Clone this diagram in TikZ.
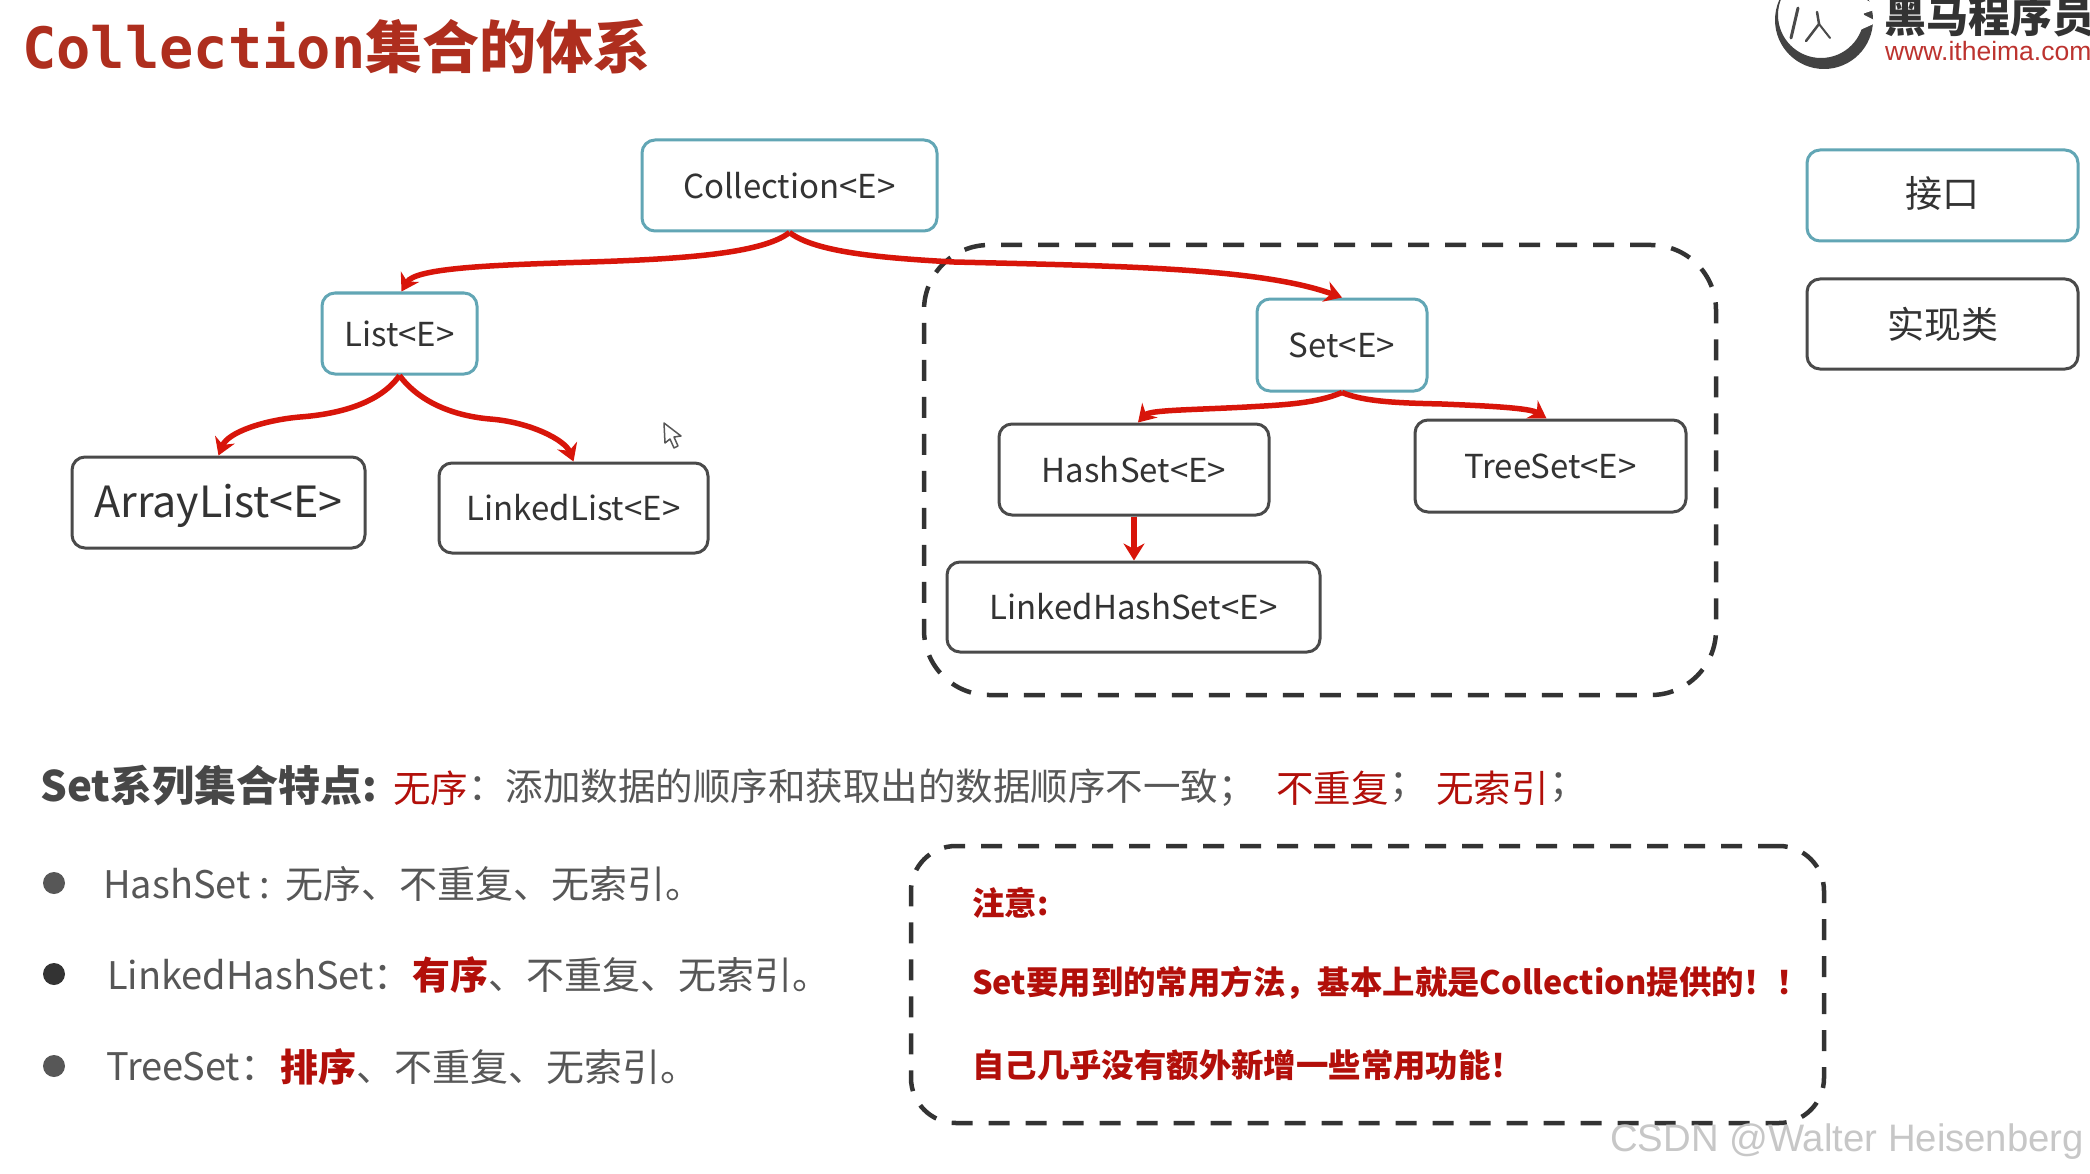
\documentclass[tikz,border=0pt]{standalone}
\usepackage{fontspec}
\usetikzlibrary{arrows.meta}
\setmainfont{Noto Sans CJK SC}
\newfontfamily\monofam{DejaVu Sans Mono}
\newfontfamily\arialfam{Liberation Sans}
\newcommand\fsz[1]{\fontsize{#1}{#1}\selectfont}
\definecolor{teal1}{HTML}{62A6B5}
\definecolor{boxgray}{HTML}{4A4A4A}
\definecolor{txtdark}{HTML}{333333}
\definecolor{txtgray}{HTML}{575757}
\definecolor{darkred}{HTML}{B20F0A}
\definecolor{titlered}{HTML}{AE2E1E}
\definecolor{linkred}{HTML}{D8150A}
\tikzset{
  x=1pt,y=-1pt,
  basebox/.style={draw,rounded corners=13pt,line width=3pt,inner sep=0pt,align=center,text=txtdark,font=\fsz{33}},
  ifacebox/.style={basebox,draw=teal1},
  classbox/.style={basebox,draw=boxgray},
  dashbox/.style={draw=txtdark,line width=4.5pt,dash pattern=on 21pt off 16pt,inner sep=0pt},
  link/.style={draw=linkred,line width=5.5pt,-{Stealth[length=17pt,width=21pt]}},
  plain/.style={anchor=west,inner sep=0pt,text=txtgray,font=\fsz{38}},
  lineone/.style={anchor=west,inner sep=0pt,text=txtgray,font=\fsz{37.5}},
  redtxt/.style={lineone,text=darkred},
  redbold/.style={plain,text=darkred,font=\fsz{38}\bfseries},
  notetxt/.style={anchor=west,inner sep=0pt,text=darkred,font=\fsz{32.4}\bfseries},
  bulletdot/.style={circle,minimum size=22pt,inner sep=0pt},
}
\begin{document}
\begin{tikzpicture}
\useasboundingbox (0,0) rectangle (2090,1174);
\clip (0,0) rectangle (2090,1174);
\fill[white] (0,0) rectangle (2090,1174);

% title
\node[anchor=west,inner sep=0pt,text=titlered] (title) at (22,47)
  {{\monofam\bfseries\fsz{57}Collection}{\bfseries\fsz{57}集合的体系}};

% logo
\fill[even odd rule,fill=boxgray!90!black] (1824,20) circle (49) (1821,15) circle (43);
\fill[white] (1860,-4) -- (1880,8) -- (1862,14) -- (1878,22) -- (1860,30) -- (1852,14) -- cycle;
\draw[boxgray,line width=2.5pt,line cap=round] (1817,12) -- (1819,24) -- (1806,41);
\draw[boxgray,line width=2pt,line cap=round] (1819,24) -- (1830,38);
\draw[boxgray,line width=3pt,line cap=round] (1798,8) -- (1791,38);
\node[anchor=west,inner sep=0pt,text=txtdark] (logotext) at (1884,17) {\fsz{42}\bfseries 黑马程序员};
\node[anchor=west,inner sep=0pt,text=darkred!85!white] (logourl) at (1885,51) {\arialfam\fsz{26.5}www.itheima.com};

% dashed regions
\node[dashbox,rounded corners=65pt,minimum width=792pt,minimum height=450pt] (setregion) at (1320,470) {};
\node[dashbox,rounded corners=45pt,minimum width=913pt,minimum height=277pt] (noteregion) at (1367.5,984.5) {};

% boxes
\node[ifacebox,minimum width=295pt,minimum height=91pt] (coll) at (789.5,185.5) {Collection<E>};
\node[ifacebox,minimum width=155pt,minimum height=81pt] (list) at (399.5,333.5) {List<E>};
\node[ifacebox,minimum width=170pt,minimum height=92pt] (set) at (1342,345) {Set<E>};
\node[classbox,minimum width=293pt,minimum height=91pt,font=\fsz{43},text height=30pt,text depth=0pt] (arr) at (218.5,502.5) {ArrayList<E>};
\node[classbox,minimum width=269pt,minimum height=90pt] (lnk) at (573.5,508) {LinkedList<E>};
\node[classbox,minimum width=270pt,minimum height=91pt] (hash) at (1134,469.5) {HashSet<E>};
\node[classbox,minimum width=271pt,minimum height=92pt] (tree) at (1550.5,466) {TreeSet<E>};
\node[classbox,minimum width=373pt,minimum height=90pt] (lhash) at (1133.5,607) {LinkedHashSet<E>};
\node[ifacebox,minimum width=271pt,minimum height=91pt,font=\fsz{37},text height=24pt,text depth=0pt] (lgif) at (1942.5,195.5) {接口};
\node[classbox,minimum width=271pt,minimum height=90pt,font=\fsz{37}] (lgcl) at (1942.5,324) {实现类};

% connectors
\coordinate (m1) at (590,262);
\coordinate (m2) at (954,262);
\coordinate (m3) at (300,417);
\coordinate (m4) at (490,419);
\coordinate (m5) at (1247,407);
\coordinate (m6) at (1442,404);
\draw[link] (coll.south) .. controls (762,254) and (680,259) .. (m1) .. controls (490,265) and (415,268) .. ([xshift=2pt]list.north);
\draw[link] (coll.south) .. controls (815,252) and (880,258) .. (m2) .. controls (1120,266) and (1260,268) .. (set.north);
\draw[link] (list.south) .. controls (380,403) and (340,414) .. (m3) .. controls (265,420) and (228,432) .. (arr.north);
\draw[link] (list.south) .. controls (420,403) and (455,416) .. (m4) .. controls (530,422) and (565,440) .. (lnk.north);
\draw[link] (set.south) .. controls (1315,404) and (1280,405) .. (m5) .. controls (1190,410) and (1150,410) .. ([xshift=4pt]hash.north);
\draw[link] (set.south) .. controls (1365,402) and (1400,403) .. (m6) .. controls (1490,406) and (1530,408) .. ([xshift=-4pt]tree.north);
\draw[link] (hash.south) -- (hash.south |- lhash.north);

% cursor
\draw[txtgray,fill=white,line width=1.5pt,line join=round] (664,423) -- (665,443) -- (670,439) -- (674,448) -- (678,446) -- (674,437) -- (681,436) -- cycle;

% Set features line
\node[anchor=west,inner sep=0pt,text=txtdark!90,font=\fsz{42}\bfseries] (feat) at (40,786) {Set系列集合特点:};
\node[redtxt] (f1) at (393,788) {无序};
\node[lineone] (f2) at (468,788) {：添加数据的顺序和获取出的数据顺序不一致；};
\node[redtxt] (f3) at (1276,788) {不重复};
\node[lineone] (f4) at (1389,788) {；};
\node[redtxt] (f5) at (1436,788) {无索引};
\node[lineone] (f6) at (1549,788) {；};

% bullets
\node[bulletdot,fill=txtgray] (b1) at (54,883) {};
\node[bulletdot,fill=txtdark] (b2) at (54,974) {};
\node[bulletdot,fill=txtgray] (b3) at (54,1066) {};
\node[plain] (t1a) at (103,884) {HashSet :};
\node[plain] (t1b) at (285,884) {无序、不重复、无索引。};
\node[plain] (t2a) at (107,975) {LinkedHashSet：};
\node[redbold] (t2b) at (412,975) {有序};
\node[plain] (t2c) at (488,975) {、不重复、无索引。};
\node[plain] (t3a) at (106,1067) {TreeSet：};
\node[redbold] (t3b) at (280,1067) {排序};
\node[plain] (t3c) at (356,1067) {、不重复、无索引。};

% note
\node[notetxt] (n1) at (972,903) {注意:};
\node[notetxt] (n2) at (972,983) {Set要用到的常用方法，基本上就是Collection提供的！！};
\node[notetxt] (n3) at (972,1065) {自己几乎没有额外新增一些常用功能！};

% watermark
\node[anchor=west,inner sep=0pt,text=black!22] (wm) at (1610,1142) {\arialfam\fsz{38.3}CSDN @Walter Heisenberg};
\end{tikzpicture}
\end{document}
